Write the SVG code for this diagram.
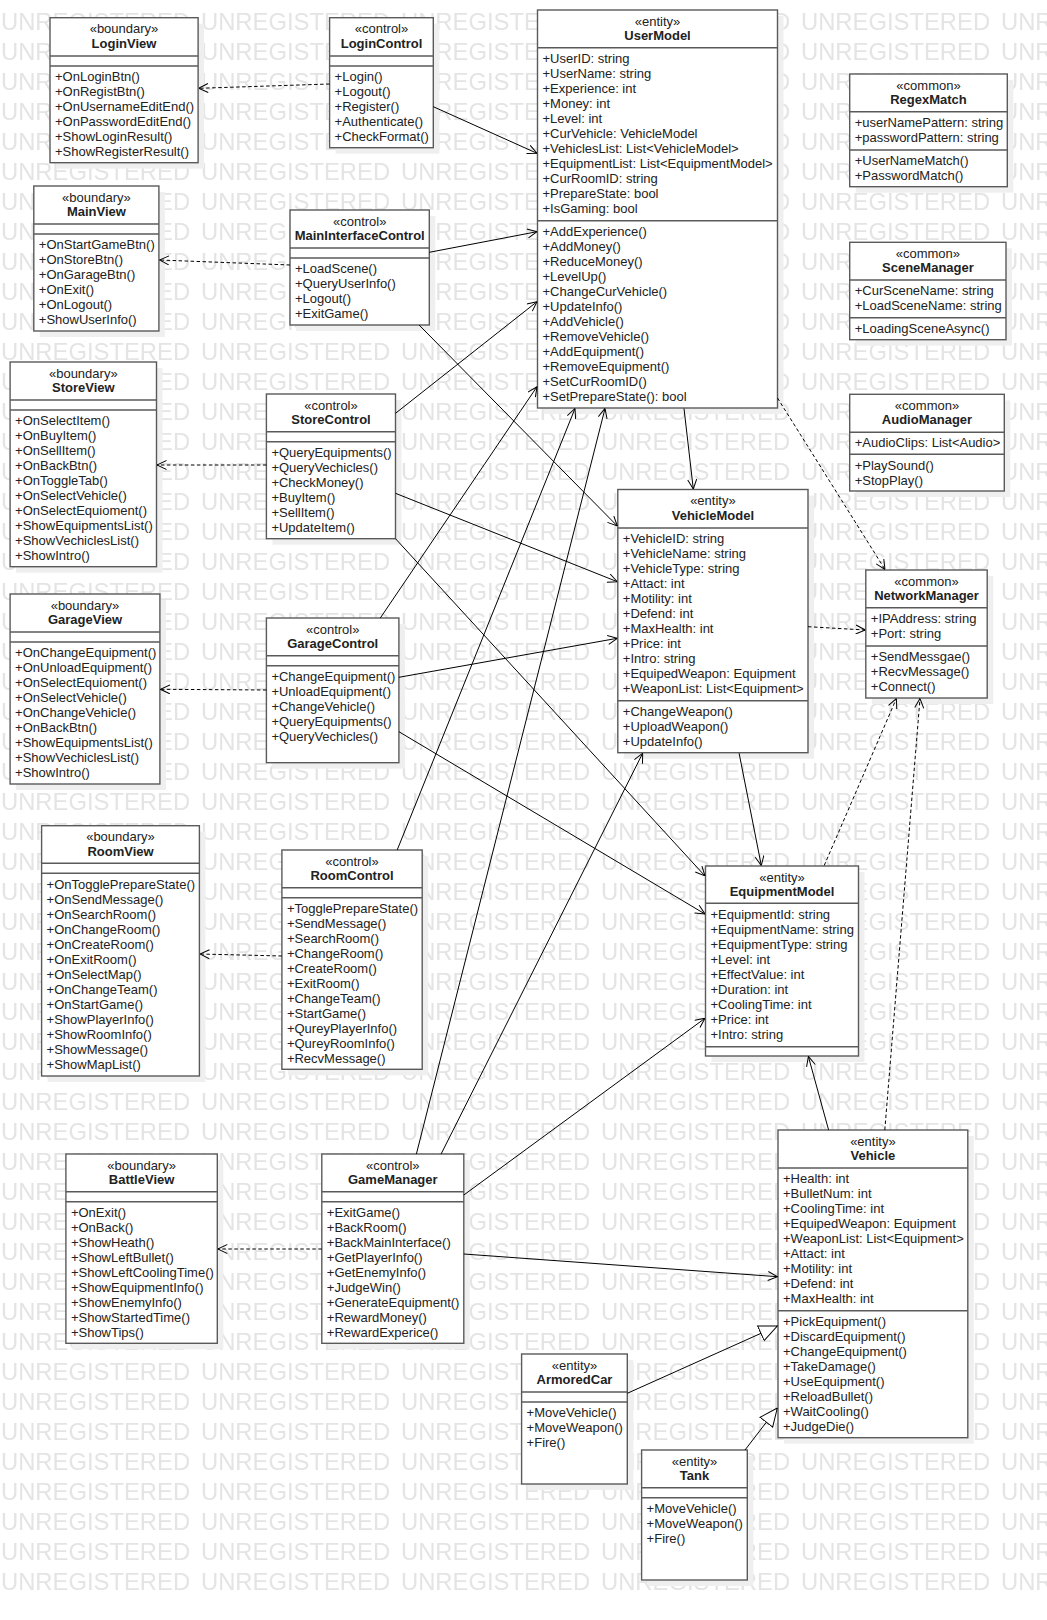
<svg xmlns="http://www.w3.org/2000/svg" width="1047" height="1620" viewBox="0 0 1047 1620">
<style>
.box{fill:#fff;stroke:#5a5a5a;stroke-width:1.4}
.sh{fill:#efefef}
.dv{stroke:#5a5a5a;stroke-width:1.4}
.st{font-family:"Liberation Sans",Arial,sans-serif;font-size:13px;fill:#222;text-anchor:middle}
.nm{font-family:"Liberation Sans",Arial,sans-serif;font-size:13px;fill:#222;text-anchor:middle;font-weight:bold}
.mb{font-family:"Liberation Sans",Arial,sans-serif;font-size:13px;fill:#222}
.assoc{stroke:#000;stroke-width:1;fill:none;marker-end:url(#open)}
.dep{stroke:#000;stroke-width:1;fill:none;stroke-dasharray:3.5,2.5;marker-end:url(#open)}
.gen{stroke:#000;stroke-width:1;fill:none;marker-end:url(#tri)}
.wm{font-family:"Liberation Sans",Arial,sans-serif;font-size:23.8px;fill:#e4e4e4}
</style>
<defs>
<marker id="open" viewBox="0 0 10 10" refX="10" refY="5" markerWidth="10" markerHeight="10" orient="auto" markerUnits="userSpaceOnUse">
<path d="M0.5,0.5 L10,5 L0.5,9.5" fill="none" stroke="#000" stroke-width="1" stroke-dasharray="none"/>
</marker>
<marker id="tri" viewBox="0 0 19 18" refX="18.5" refY="9" markerWidth="19" markerHeight="18" orient="auto" markerUnits="userSpaceOnUse">
<path d="M18.5,9 L0.5,1 L0.5,17 Z" fill="#fff" stroke="#000" stroke-width="1"/>
</marker>
<pattern id="wmp" x="0" y="5" width="200" height="30" patternUnits="userSpaceOnUse">
<text class="wm" x="1" y="25">UNREGISTERED</text>
</pattern>
</defs>
<rect width="1047" height="1620" fill="#fff"/>
<rect id="watermark" x="0" y="0" width="1047" height="1596" fill="url(#wmp)"/>

<g id="LoginView">
<rect class="sh" x="56" y="23.7" width="148.1" height="145"/>
<rect class="box" x="50" y="17.7" width="148.1" height="145"/>
<line class="dv" x1="50" y1="56" x2="198.1" y2="56"/><line class="dv" x1="50" y1="66" x2="198.1" y2="66"/>
<text class="st" x="124" y="33.2">«boundary»</text><text class="nm" x="124" y="47.7">LoginView</text>
<text class="mb" x="55" y="81.3">+OnLoginBtn()</text>
<text class="mb" x="55" y="96.3">+OnRegistBtn()</text>
<text class="mb" x="55" y="111.3">+OnUsernameEditEnd()</text>
<text class="mb" x="55" y="126.3">+OnPasswordEditEnd()</text>
<text class="mb" x="55" y="141.3">+ShowLoginResult()</text>
<text class="mb" x="55" y="156.3">+ShowRegisterResult()</text>
</g>

<g id="LoginControl">
<rect class="sh" x="335.6" y="23.7" width="103.7" height="130"/>
<rect class="box" x="329.6" y="17.7" width="103.7" height="130"/>
<line class="dv" x1="329.6" y1="56" x2="433.3" y2="56"/><line class="dv" x1="329.6" y1="66" x2="433.3" y2="66"/>
<text class="st" x="381.5" y="33.2">«control»</text><text class="nm" x="381.5" y="47.7">LoginControl</text>
<text class="mb" x="334.6" y="81.3">+Login()</text>
<text class="mb" x="334.6" y="96.3">+Logout()</text>
<text class="mb" x="334.6" y="111.3">+Register()</text>
<text class="mb" x="334.6" y="126.3">+Authenticate()</text>
<text class="mb" x="334.6" y="141.3">+CheckFormat()</text>
</g>

<g id="MainView">
<rect class="sh" x="39.8" y="192" width="125.1" height="145"/>
<rect class="box" x="33.8" y="186" width="125.1" height="145"/>
<line class="dv" x1="33.8" y1="224" x2="158.9" y2="224"/><line class="dv" x1="33.8" y1="234" x2="158.9" y2="234"/>
<text class="st" x="96.4" y="201.5">«boundary»</text><text class="nm" x="96.4" y="216">MainView</text>
<text class="mb" x="38.8" y="249.3">+OnStartGameBtn()</text>
<text class="mb" x="38.8" y="264.3">+OnStoreBtn()</text>
<text class="mb" x="38.8" y="279.3">+OnGarageBtn()</text>
<text class="mb" x="38.8" y="294.3">+OnExit()</text>
<text class="mb" x="38.8" y="309.3">+OnLogout()</text>
<text class="mb" x="38.8" y="324.3">+ShowUserInfo()</text>
</g>

<g id="MainInterfaceControl">
<rect class="sh" x="296" y="216" width="139.3" height="115"/>
<rect class="box" x="290" y="210" width="139.3" height="115"/>
<line class="dv" x1="290" y1="248" x2="429.3" y2="248"/><line class="dv" x1="290" y1="258" x2="429.3" y2="258"/>
<text class="st" x="359.7" y="225.5">«control»</text><text class="nm" x="359.7" y="240">MainInterfaceControl</text>
<text class="mb" x="295" y="273.3">+LoadScene()</text>
<text class="mb" x="295" y="288.3">+QueryUserInfo()</text>
<text class="mb" x="295" y="303.3">+Logout()</text>
<text class="mb" x="295" y="318.3">+ExitGame()</text>
</g>

<g id="StoreView">
<rect class="sh" x="16.1" y="368" width="146.4" height="204.7"/>
<rect class="box" x="10.1" y="362" width="146.4" height="204.7"/>
<line class="dv" x1="10.1" y1="400" x2="156.5" y2="400"/><line class="dv" x1="10.1" y1="410" x2="156.5" y2="410"/>
<text class="st" x="83.3" y="377.5">«boundary»</text><text class="nm" x="83.3" y="392">StoreView</text>
<text class="mb" x="15.1" y="425.3">+OnSelectItem()</text>
<text class="mb" x="15.1" y="440.3">+OnBuyItem()</text>
<text class="mb" x="15.1" y="455.3">+OnSellItem()</text>
<text class="mb" x="15.1" y="470.3">+OnBackBtn()</text>
<text class="mb" x="15.1" y="485.3">+OnToggleTab()</text>
<text class="mb" x="15.1" y="500.3">+OnSelectVehicle()</text>
<text class="mb" x="15.1" y="515.3">+OnSelectEquioment()</text>
<text class="mb" x="15.1" y="530.3">+ShowEquipmentsList()</text>
<text class="mb" x="15.1" y="545.3">+ShowVechiclesList()</text>
<text class="mb" x="15.1" y="560.3">+ShowIntro()</text>
</g>

<g id="StoreControl">
<rect class="sh" x="272.4" y="400" width="129.1" height="144.7"/>
<rect class="box" x="266.4" y="394" width="129.1" height="144.7"/>
<line class="dv" x1="266.4" y1="431.7" x2="395.5" y2="431.7"/><line class="dv" x1="266.4" y1="441.7" x2="395.5" y2="441.7"/>
<text class="st" x="331" y="409.5">«control»</text><text class="nm" x="331" y="424">StoreControl</text>
<text class="mb" x="271.4" y="457">+QueryEquipments()</text>
<text class="mb" x="271.4" y="472">+QueryVechicles()</text>
<text class="mb" x="271.4" y="487">+CheckMoney()</text>
<text class="mb" x="271.4" y="502">+BuyItem()</text>
<text class="mb" x="271.4" y="517">+SellItem()</text>
<text class="mb" x="271.4" y="532">+UpdateItem()</text>
</g>

<g id="GarageView">
<rect class="sh" x="16.1" y="600" width="149.8" height="190"/>
<rect class="box" x="10.1" y="594" width="149.8" height="190"/>
<line class="dv" x1="10.1" y1="632" x2="159.9" y2="632"/><line class="dv" x1="10.1" y1="642" x2="159.9" y2="642"/>
<text class="st" x="85" y="609.5">«boundary»</text><text class="nm" x="85" y="624">GarageView</text>
<text class="mb" x="15.1" y="657.3">+OnChangeEquipment()</text>
<text class="mb" x="15.1" y="672.3">+OnUnloadEquipment()</text>
<text class="mb" x="15.1" y="687.3">+OnSelectEquioment()</text>
<text class="mb" x="15.1" y="702.3">+OnSelectVehicle()</text>
<text class="mb" x="15.1" y="717.3">+OnChangeVehicle()</text>
<text class="mb" x="15.1" y="732.3">+OnBackBtn()</text>
<text class="mb" x="15.1" y="747.3">+ShowEquipmentsList()</text>
<text class="mb" x="15.1" y="762.3">+ShowVechiclesList()</text>
<text class="mb" x="15.1" y="777.3">+ShowIntro()</text>
</g>

<g id="GarageControl">
<rect class="sh" x="272.4" y="624" width="132.5" height="144.7"/>
<rect class="box" x="266.4" y="618" width="132.5" height="144.7"/>
<line class="dv" x1="266.4" y1="655.7" x2="398.9" y2="655.7"/><line class="dv" x1="266.4" y1="665.7" x2="398.9" y2="665.7"/>
<text class="st" x="332.7" y="633.5">«control»</text><text class="nm" x="332.7" y="648">GarageControl</text>
<text class="mb" x="271.4" y="681">+ChangeEquipment()</text>
<text class="mb" x="271.4" y="696">+UnloadEquipment()</text>
<text class="mb" x="271.4" y="711">+ChangeVehicle()</text>
<text class="mb" x="271.4" y="726">+QueryEquipments()</text>
<text class="mb" x="271.4" y="741">+QueryVechicles()</text>
</g>

<g id="RoomView">
<rect class="sh" x="47.6" y="831.7" width="157.8" height="250.3"/>
<rect class="box" x="41.6" y="825.7" width="157.8" height="250.3"/>
<line class="dv" x1="41.6" y1="863.3" x2="199.4" y2="863.3"/><line class="dv" x1="41.6" y1="873.3" x2="199.4" y2="873.3"/>
<text class="st" x="120.5" y="841.2">«boundary»</text><text class="nm" x="120.5" y="855.7">RoomView</text>
<text class="mb" x="46.6" y="888.6">+OnTogglePrepareState()</text>
<text class="mb" x="46.6" y="903.6">+OnSendMessage()</text>
<text class="mb" x="46.6" y="918.6">+OnSearchRoom()</text>
<text class="mb" x="46.6" y="933.6">+OnChangeRoom()</text>
<text class="mb" x="46.6" y="948.6">+OnCreateRoom()</text>
<text class="mb" x="46.6" y="963.6">+OnExitRoom()</text>
<text class="mb" x="46.6" y="978.6">+OnSelectMap()</text>
<text class="mb" x="46.6" y="993.6">+OnChangeTeam()</text>
<text class="mb" x="46.6" y="1008.6">+OnStartGame()</text>
<text class="mb" x="46.6" y="1023.6">+ShowPlayerInfo()</text>
<text class="mb" x="46.6" y="1038.6">+ShowRoomInfo()</text>
<text class="mb" x="46.6" y="1053.6">+ShowMessage()</text>
<text class="mb" x="46.6" y="1068.6">+ShowMapList()</text>
</g>

<g id="RoomControl">
<rect class="sh" x="287.9" y="856" width="140.3" height="219.3"/>
<rect class="box" x="281.9" y="850" width="140.3" height="219.3"/>
<line class="dv" x1="281.9" y1="887.7" x2="422.2" y2="887.7"/><line class="dv" x1="281.9" y1="897.7" x2="422.2" y2="897.7"/>
<text class="st" x="352" y="865.5">«control»</text><text class="nm" x="352" y="880">RoomControl</text>
<text class="mb" x="286.9" y="913">+TogglePrepareState()</text>
<text class="mb" x="286.9" y="928">+SendMessage()</text>
<text class="mb" x="286.9" y="943">+SearchRoom()</text>
<text class="mb" x="286.9" y="958">+ChangeRoom()</text>
<text class="mb" x="286.9" y="973">+CreateRoom()</text>
<text class="mb" x="286.9" y="988">+ExitRoom()</text>
<text class="mb" x="286.9" y="1003">+ChangeTeam()</text>
<text class="mb" x="286.9" y="1018">+StartGame()</text>
<text class="mb" x="286.9" y="1033">+QureyPlayerInfo()</text>
<text class="mb" x="286.9" y="1048">+QureyRoomInfo()</text>
<text class="mb" x="286.9" y="1063">+RecvMessage()</text>
</g>

<g id="BattleView">
<rect class="sh" x="71.9" y="1160" width="151.4" height="189.3"/>
<rect class="box" x="65.9" y="1154" width="151.4" height="189.3"/>
<line class="dv" x1="65.9" y1="1191.7" x2="217.3" y2="1191.7"/><line class="dv" x1="65.9" y1="1201.7" x2="217.3" y2="1201.7"/>
<text class="st" x="141.6" y="1169.5">«boundary»</text><text class="nm" x="141.6" y="1184">BattleView</text>
<text class="mb" x="70.9" y="1217">+OnExit()</text>
<text class="mb" x="70.9" y="1232">+OnBack()</text>
<text class="mb" x="70.9" y="1247">+ShowHeath()</text>
<text class="mb" x="70.9" y="1262">+ShowLeftBullet()</text>
<text class="mb" x="70.9" y="1277">+ShowLeftCoolingTime()</text>
<text class="mb" x="70.9" y="1292">+ShowEquipmentInfo()</text>
<text class="mb" x="70.9" y="1307">+ShowEnemyInfo()</text>
<text class="mb" x="70.9" y="1322">+ShowStartedTime()</text>
<text class="mb" x="70.9" y="1337">+ShowTips()</text>
</g>

<g id="GameManager">
<rect class="sh" x="327.8" y="1160" width="142" height="189.3"/>
<rect class="box" x="321.8" y="1154" width="142" height="189.3"/>
<line class="dv" x1="321.8" y1="1191.7" x2="463.8" y2="1191.7"/><line class="dv" x1="321.8" y1="1201.7" x2="463.8" y2="1201.7"/>
<text class="st" x="392.8" y="1169.5">«control»</text><text class="nm" x="392.8" y="1184">GameManager</text>
<text class="mb" x="326.8" y="1217">+ExitGame()</text>
<text class="mb" x="326.8" y="1232">+BackRoom()</text>
<text class="mb" x="326.8" y="1247">+BackMainInterface()</text>
<text class="mb" x="326.8" y="1262">+GetPlayerInfo()</text>
<text class="mb" x="326.8" y="1277">+GetEnemyInfo()</text>
<text class="mb" x="326.8" y="1292">+JudgeWin()</text>
<text class="mb" x="326.8" y="1307">+GenerateEquipment()</text>
<text class="mb" x="326.8" y="1322">+RewardMoney()</text>
<text class="mb" x="326.8" y="1337">+RewardExperice()</text>
</g>

<g id="UserModel">
<rect class="sh" x="543.5" y="16" width="240" height="398"/>
<rect class="box" x="537.5" y="10" width="240" height="398"/>
<line class="dv" x1="537.5" y1="47.7" x2="777.5" y2="47.7"/><line class="dv" x1="537.5" y1="220.7" x2="777.5" y2="220.7"/>
<text class="st" x="657.5" y="25.5">«entity»</text><text class="nm" x="657.5" y="40">UserModel</text>
<text class="mb" x="542.5" y="63">+UserID: string</text>
<text class="mb" x="542.5" y="78">+UserName: string</text>
<text class="mb" x="542.5" y="93">+Experience: int</text>
<text class="mb" x="542.5" y="108">+Money: int</text>
<text class="mb" x="542.5" y="123">+Level: int</text>
<text class="mb" x="542.5" y="138">+CurVehicle: VehicleModel</text>
<text class="mb" x="542.5" y="153">+VehiclesList: List&lt;VehicleModel&gt;</text>
<text class="mb" x="542.5" y="168">+EquipmentList: List&lt;EquipmentModel&gt;</text>
<text class="mb" x="542.5" y="183">+CurRoomID: string</text>
<text class="mb" x="542.5" y="198">+PrepareState: bool</text>
<text class="mb" x="542.5" y="213">+IsGaming: bool</text>
<text class="mb" x="542.5" y="236">+AddExperience()</text>
<text class="mb" x="542.5" y="251">+AddMoney()</text>
<text class="mb" x="542.5" y="266">+ReduceMoney()</text>
<text class="mb" x="542.5" y="281">+LevelUp()</text>
<text class="mb" x="542.5" y="296">+ChangeCurVehicle()</text>
<text class="mb" x="542.5" y="311">+UpdateInfo()</text>
<text class="mb" x="542.5" y="326">+AddVehicle()</text>
<text class="mb" x="542.5" y="341">+RemoveVehicle()</text>
<text class="mb" x="542.5" y="356">+AddEquipment()</text>
<text class="mb" x="542.5" y="371">+RemoveEquipment()</text>
<text class="mb" x="542.5" y="386">+SetCurRoomID()</text>
<text class="mb" x="542.5" y="401">+SetPrepareState(): bool</text>
</g>

<g id="RegexMatch">
<rect class="sh" x="855.7" y="80" width="157.6" height="112.7"/>
<rect class="box" x="849.7" y="74" width="157.6" height="112.7"/>
<line class="dv" x1="849.7" y1="111.7" x2="1007.3" y2="111.7"/><line class="dv" x1="849.7" y1="150" x2="1007.3" y2="150"/>
<text class="st" x="928.5" y="89.5">«common»</text><text class="nm" x="928.5" y="104">RegexMatch</text>
<text class="mb" x="854.7" y="127">+userNamePattern: string</text>
<text class="mb" x="854.7" y="142">+passwordPattern: string</text>
<text class="mb" x="854.7" y="165.3">+UserNameMatch()</text>
<text class="mb" x="854.7" y="180.3">+PasswordMatch()</text>
</g>

<g id="SceneManager">
<rect class="sh" x="855.7" y="248.3" width="156.3" height="97.4"/>
<rect class="box" x="849.7" y="242.3" width="156.3" height="97.4"/>
<line class="dv" x1="849.7" y1="280" x2="1006" y2="280"/><line class="dv" x1="849.7" y1="317.7" x2="1006" y2="317.7"/>
<text class="st" x="927.9" y="257.8">«common»</text><text class="nm" x="927.9" y="272.3">SceneManager</text>
<text class="mb" x="854.7" y="295.3">+CurSceneName: string</text>
<text class="mb" x="854.7" y="310.3">+LoadSceneName: string</text>
<text class="mb" x="854.7" y="333">+LoadingSceneAsync()</text>
</g>

<g id="AudioManager">
<rect class="sh" x="855.7" y="400.3" width="154.6" height="96.7"/>
<rect class="box" x="849.7" y="394.3" width="154.6" height="96.7"/>
<line class="dv" x1="849.7" y1="432.3" x2="1004.3" y2="432.3"/><line class="dv" x1="849.7" y1="454.3" x2="1004.3" y2="454.3"/>
<text class="st" x="927" y="409.8">«common»</text><text class="nm" x="927" y="424.3">AudioManager</text>
<text class="mb" x="854.7" y="447">+AudioClips: List&lt;Audio&gt;</text>
<text class="mb" x="854.7" y="469.6">+PlaySound()</text>
<text class="mb" x="854.7" y="484.6">+StopPlay()</text>
</g>

<g id="VehicleModel">
<rect class="sh" x="623.8" y="495.5" width="190.2" height="263.2"/>
<rect class="box" x="617.8" y="489.5" width="190.2" height="263.2"/>
<line class="dv" x1="617.8" y1="528" x2="808" y2="528"/><line class="dv" x1="617.8" y1="700.7" x2="808" y2="700.7"/>
<text class="st" x="712.9" y="505">«entity»</text><text class="nm" x="712.9" y="519.5">VehicleModel</text>
<text class="mb" x="622.8" y="543.3">+VehicleID: string</text>
<text class="mb" x="622.8" y="558.3">+VehicleName: string</text>
<text class="mb" x="622.8" y="573.3">+VehicleType: string</text>
<text class="mb" x="622.8" y="588.3">+Attact: int</text>
<text class="mb" x="622.8" y="603.3">+Motility: int</text>
<text class="mb" x="622.8" y="618.3">+Defend: int</text>
<text class="mb" x="622.8" y="633.3">+MaxHealth: int</text>
<text class="mb" x="622.8" y="648.3">+Price: int</text>
<text class="mb" x="622.8" y="663.3">+Intro: string</text>
<text class="mb" x="622.8" y="678.3">+EquipedWeapon: Equipment</text>
<text class="mb" x="622.8" y="693.3">+WeaponList: List&lt;Equipment&gt;</text>
<text class="mb" x="622.8" y="716">+ChangeWeapon()</text>
<text class="mb" x="622.8" y="731">+UploadWeapon()</text>
<text class="mb" x="622.8" y="746">+UpdateInfo()</text>
</g>

<g id="NetworkManager">
<rect class="sh" x="871.8" y="576" width="121.4" height="128"/>
<rect class="box" x="865.8" y="570" width="121.4" height="128"/>
<line class="dv" x1="865.8" y1="607.7" x2="987.2" y2="607.7"/><line class="dv" x1="865.8" y1="646" x2="987.2" y2="646"/>
<text class="st" x="926.5" y="585.5">«common»</text><text class="nm" x="926.5" y="600">NetworkManager</text>
<text class="mb" x="870.8" y="623">+IPAddress: string</text>
<text class="mb" x="870.8" y="638">+Port: string</text>
<text class="mb" x="870.8" y="661.3">+SendMessgae()</text>
<text class="mb" x="870.8" y="676.3">+RecvMessage()</text>
<text class="mb" x="870.8" y="691.3">+Connect()</text>
</g>

<g id="EquipmentModel">
<rect class="sh" x="711.5" y="872" width="153" height="190"/>
<rect class="box" x="705.5" y="866" width="153" height="190"/>
<line class="dv" x1="705.5" y1="903.3" x2="858.5" y2="903.3"/><line class="dv" x1="705.5" y1="1046.7" x2="858.5" y2="1046.7"/>
<text class="st" x="782" y="881.5">«entity»</text><text class="nm" x="782" y="896">EquipmentModel</text>
<text class="mb" x="710.5" y="918.6">+EquipmentId: string</text>
<text class="mb" x="710.5" y="933.6">+EquipmentName: string</text>
<text class="mb" x="710.5" y="948.6">+EquipmentType: string</text>
<text class="mb" x="710.5" y="963.6">+Level: int</text>
<text class="mb" x="710.5" y="978.6">+EffectValue: int</text>
<text class="mb" x="710.5" y="993.6">+Duration: int</text>
<text class="mb" x="710.5" y="1008.6">+CoolingTime: int</text>
<text class="mb" x="710.5" y="1023.6">+Price: int</text>
<text class="mb" x="710.5" y="1038.6">+Intro: string</text>
</g>

<g id="Vehicle">
<rect class="sh" x="784" y="1136" width="189.8" height="307.7"/>
<rect class="box" x="778" y="1130" width="189.8" height="307.7"/>
<line class="dv" x1="778" y1="1168" x2="967.8" y2="1168"/><line class="dv" x1="778" y1="1310.7" x2="967.8" y2="1310.7"/>
<text class="st" x="872.9" y="1145.5">«entity»</text><text class="nm" x="872.9" y="1160">Vehicle</text>
<text class="mb" x="783" y="1183.3">+Health: int</text>
<text class="mb" x="783" y="1198.3">+BulletNum: int</text>
<text class="mb" x="783" y="1213.3">+CoolingTime: int</text>
<text class="mb" x="783" y="1228.3">+EquipedWeapon: Equipment</text>
<text class="mb" x="783" y="1243.3">+WeaponList: List&lt;Equipment&gt;</text>
<text class="mb" x="783" y="1258.3">+Attact: int</text>
<text class="mb" x="783" y="1273.3">+Motility: int</text>
<text class="mb" x="783" y="1288.3">+Defend: int</text>
<text class="mb" x="783" y="1303.3">+MaxHealth: int</text>
<text class="mb" x="783" y="1326">+PickEquipment()</text>
<text class="mb" x="783" y="1341">+DiscardEquipment()</text>
<text class="mb" x="783" y="1356">+ChangeEquipment()</text>
<text class="mb" x="783" y="1371">+TakeDamage()</text>
<text class="mb" x="783" y="1386">+UseEquipment()</text>
<text class="mb" x="783" y="1401">+ReloadBullet()</text>
<text class="mb" x="783" y="1416">+WaitCooling()</text>
<text class="mb" x="783" y="1431">+JudgeDie()</text>
</g>

<g id="ArmoredCar">
<rect class="sh" x="527.6" y="1360" width="105.7" height="130"/>
<rect class="box" x="521.6" y="1354" width="105.7" height="130"/>
<line class="dv" x1="521.6" y1="1392" x2="627.3" y2="1392"/><line class="dv" x1="521.6" y1="1402" x2="627.3" y2="1402"/>
<text class="st" x="574.5" y="1369.5">«entity»</text><text class="nm" x="574.5" y="1384">ArmoredCar</text>
<text class="mb" x="526.6" y="1417">+MoveVehicle()</text>
<text class="mb" x="526.6" y="1432">+MoveWeapon()</text>
<text class="mb" x="526.6" y="1447">+Fire()</text>
</g>

<g id="Tank">
<rect class="sh" x="647.6" y="1456" width="105.7" height="130"/>
<rect class="box" x="641.6" y="1450" width="105.7" height="130"/>
<line class="dv" x1="641.6" y1="1487.7" x2="747.3" y2="1487.7"/><line class="dv" x1="641.6" y1="1497.7" x2="747.3" y2="1497.7"/>
<text class="st" x="694.5" y="1465.5">«entity»</text><text class="nm" x="694.5" y="1480">Tank</text>
<text class="mb" x="646.6" y="1512.7">+MoveVehicle()</text>
<text class="mb" x="646.6" y="1527.7">+MoveWeapon()</text>
<text class="mb" x="646.6" y="1542.7">+Fire()</text>
</g>

<g id="connectors">
<path class="dep" d="M329.6,84 L198.6,88.3"/>
<path class="dep" d="M290,265 L159.4,260"/>
<path class="dep" d="M266.4,465 L157,465"/>
<path class="dep" d="M266.4,690 L160.4,689.3"/>
<path class="dep" d="M281.9,956 L199.9,954"/>
<path class="dep" d="M321.8,1249 L217.8,1249"/>
<path class="dep" d="M777.5,398 L885,569.5"/>
<path class="dep" d="M808,626.7 L865.3,630"/>
<path class="dep" d="M824.2,865.5 L896.4,698.5"/>
<path class="dep" d="M884.8,1130 L920,698.5"/>
<path class="assoc" d="M433.3,106.7 L537,153.3"/>
<path class="assoc" d="M429.3,252.3 L537,231.7"/>
<path class="assoc" d="M395.5,413.3 L537,301.7"/>
<path class="assoc" d="M380.3,618 L537,386.7"/>
<path class="assoc" d="M397.2,850 L575,408.5"/>
<path class="assoc" d="M416.4,1154 L605,408.5"/>
<path class="assoc" d="M419.1,325 L617.3,526"/>
<path class="assoc" d="M395.5,493.3 L617.3,581.7"/>
<path class="assoc" d="M395.5,538.7 L705,876"/>
<path class="assoc" d="M398.9,677.3 L617.3,638.3"/>
<path class="assoc" d="M398.9,731.7 L705,914"/>
<path class="assoc" d="M441.1,1154 L642.7,753.2"/>
<path class="assoc" d="M463.8,1195 L705,1018.3"/>
<path class="assoc" d="M463.8,1254 L777.5,1276.7"/>
<path class="assoc" d="M684,408.5 L693.3,489"/>
<path class="assoc" d="M739.1,753.2 L761.3,865.5"/>
<path class="assoc" d="M828.6,1130 L808.4,1056.5"/>
<path class="gen" d="M627.3,1393.3 L777.3,1326"/>
<path class="gen" d="M745,1450 L777.3,1408"/>
</g>
</svg>
